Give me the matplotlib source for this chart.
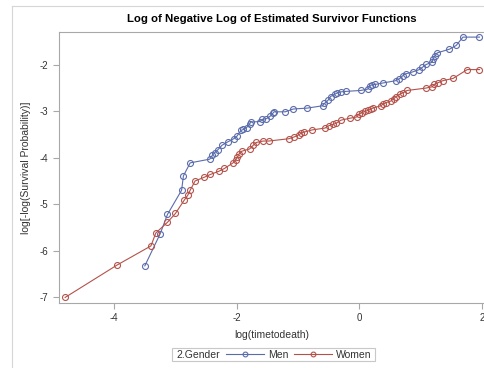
import matplotlib.pyplot as plt
from matplotlib.lines import Line2D
from matplotlib.patches import Rectangle

# log(time) and log(-log(S)) for each group
men_x = [-3.50, -3.25, -3.13, -2.90, -2.87, -2.76, -2.44, -2.40, -2.36, -2.31, -2.24, -2.15,
         -2.05, -2.00, -1.93, -1.89, -1.84, -1.79, -1.77, -1.62, -1.58, -1.52, -1.45, -1.41,
         -1.39, -1.21, -1.08, -0.85, -0.60, -0.57, -0.51, -0.47, -0.40, -0.37, -0.30, -0.22,
         0.02, 0.14, 0.17, 0.20, 0.26, 0.38, 0.59, 0.64, 0.71, 0.76, 0.87, 0.98, 1.03, 1.09,
         1.19, 1.20, 1.23, 1.27, 1.47, 1.58, 1.69, 1.96]
men_y = [-6.33, -5.64, -5.22, -4.70, -4.39, -4.11, -4.03, -3.95, -3.89, -3.83, -3.73, -3.66,
         -3.59, -3.54, -3.41, -3.39, -3.35, -3.27, -3.23, -3.22, -3.17, -3.16, -3.10, -3.04,
         -3.01, -3.01, -2.95, -2.93, -2.88, -2.83, -2.76, -2.68, -2.63, -2.61, -2.58, -2.57,
         -2.55, -2.52, -2.46, -2.43, -2.42, -2.39, -2.34, -2.31, -2.23, -2.19, -2.15, -2.10,
         -2.05, -1.99, -1.94, -1.88, -1.81, -1.74, -1.66, -1.58, -1.40, -1.40]

women_x = [-4.80, -3.95, -3.40, -3.32, -3.13, -3.00, -2.86, -2.80, -2.76, -2.68, -2.53, -2.43,
           -2.29, -2.20, -2.06, -2.02, -1.99, -1.96, -1.92, -1.79, -1.73, -1.68, -1.57, -1.48,
           -1.15, -1.06, -0.98, -0.95, -0.91, -0.77, -0.56, -0.50, -0.43, -0.38, -0.30, -0.16,
           -0.04, -0.01, 0.04, 0.09, 0.14, 0.19, 0.22, 0.35, 0.38, 0.44, 0.51, 0.56, 0.60, 0.66,
           0.71, 0.78, 1.08, 1.19, 1.22, 1.29, 1.36, 1.53, 1.76, 1.96]
women_y = [-7.01, -6.31, -5.90, -5.62, -5.39, -5.20, -4.92, -4.81, -4.70, -4.50, -4.42, -4.36,
           -4.29, -4.23, -4.11, -4.05, -3.99, -3.91, -3.86, -3.81, -3.73, -3.67, -3.64, -3.64,
           -3.59, -3.55, -3.50, -3.47, -3.45, -3.40, -3.36, -3.31, -3.28, -3.26, -3.19, -3.15,
           -3.12, -3.06, -3.03, -3.00, -2.98, -2.95, -2.93, -2.88, -2.85, -2.81, -2.78, -2.73,
           -2.68, -2.63, -2.60, -2.55, -2.50, -2.47, -2.42, -2.38, -2.34, -2.29, -2.10, -2.10]

groups = ["Men", "Women"]
colors = ["#5b6cab", "#b4524a"]

plt.rcParams['font.family'] = ['Liberation Sans', 'DejaVu Sans']

fig = plt.figure(figsize=(4.85, 3.68), dpi=100)
ax = fig.add_axes([59/485, 1 - 303/368, 426/485, 271/368])

for xs, ys, c, name in zip([men_x, women_x], [men_y, women_y], colors, groups):
    ax.plot(xs, ys, color=c, lw=0.8, marker='o', ms=4.3, mfc='none', mec=c, mew=0.8, label=name)

ax.set_xlim(-4.9, 2.05)
ax.set_ylim(-7.13, -1.29)
ax.set_xticks([-4, -2, 0, 2])
ax.set_yticks([-7, -6, -5, -4, -3, -2])
ax.set_xticklabels(['-4', '-2', '0', '2'])
ax.set_yticklabels(['-7', '-6', '-5', '-4', '-3', '-2'])

for s in ax.spines.values():
    s.set_color('#a8a8a8')
    s.set_linewidth(0.8)
ax.spines['right'].set_visible(False)
ax.tick_params(colors='#a8a8a8', labelcolor='#333333', labelsize=7, length=4, width=0.8)

ax.set_title("Log of Negative Log of Estimated Survivor Functions", fontsize=8.2,
             fontweight='bold', pad=7)
ax.set_xlabel("log(timetodeath)", fontsize=7.5, color='#333333', labelpad=5)
ax.set_ylabel("log[-log(Survival Probability)]", fontsize=7.5, color='#333333', labelpad=6)

# outer frame lines
fig.add_artist(Line2D([12/485, 12/485], [0, 1 - 6/368], color='#d6d6d6', lw=0.8))
fig.add_artist(Line2D([12/485, 1], [1 - 6/368, 1 - 6/368], color='#d6d6d6', lw=0.8))

# legend box with the group title at its left
fig.add_artist(Rectangle((172/485, 1 - 361/368), 203/485, 13/368, transform=fig.transFigure,
                         fill=False, edgecolor='#c8c8c8', lw=0.8))
fig.text(176/485, 1 - 354.5/368, "2.Gender", fontsize=7.5, color='#333333', va='center')
handles, labels = ax.get_legend_handles_labels()
fig.legend(handles, labels, loc='center left', bbox_to_anchor=(226/485, 1 - 354.5/368),
           ncol=2, frameon=False, fontsize=7.5, handlelength=3.6, handletextpad=0.4,
           columnspacing=0.6, borderaxespad=0, borderpad=0, markerscale=0.8,
           labelcolor='#333333')

fig.savefig("out.png", dpi=100)
